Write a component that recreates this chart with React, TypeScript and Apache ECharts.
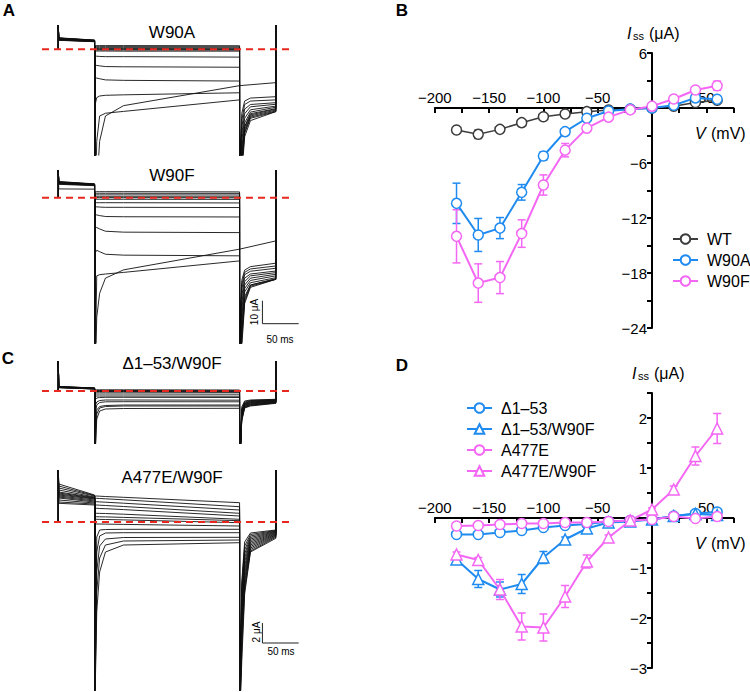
import React, { useEffect, useRef } from 'react';
import * as echarts from 'echarts';

const FONT = 'Liberation Sans, Arial, Helvetica, sans-serif';

// ---------- I–V data (panel B) ----------
const V = [-180, -160, -140, -120, -100, -80, -60, -40, -20, 0, 20, 40, 60];
const WT = [-2.4, -2.87, -2.33, -1.6, -0.95, -0.65, -0.4, -0.22, -0.15, 0, 0.2, 0.6, 0.85];
const WT_ERR = [0.2, 0.45, 0.35, 0.2, 0.15, 0.1, 0.1, 0.05, 0.05, 0.05, 0.1, 0.15, 0.15];
const W90A = [-10.4, -13.85, -13.1, -9.2, -5.24, -2.58, -1.12, -0.33, -0.12, 0, 0.3, 1.1, 0.95];
const W90A_ERR = [2.2, 1.8, 1.15, 0.85, 0.45, 0.25, 0.2, 0.1, 0.05, 0.05, 0.1, 0.35, 0.2];
const W90F = [-14.0, -19.1, -18.5, -13.7, -8.4, -4.6, -2.2, -1.0, -0.2, 0.2, 0.98, 1.96, 2.43];
const W90F_ERR = [2.9, 2.1, 1.75, 1.5, 1.1, 0.73, 0.3, 0.15, 0.1, 0.1, 0.15, 0.2, 0.5];

// ---------- I–V data (panel D) ----------
const D153 = [-0.33, -0.33, -0.29, -0.25, -0.19, -0.15, -0.12, -0.07, -0.05, -0.03, 0.04, 0.09, 0.12];
const D153_ERR = [0.03, 0.03, 0.03, 0.03, 0.02, 0.02, 0.02, 0.02, 0.02, 0.02, 0.02, 0.03, 0.05];
const D153_W90F = [-0.83, -1.22, -1.43, -1.32, -0.79, -0.43, -0.21, -0.09, -0.07, -0.03, 0.04, 0.08, 0.06];
const D153_W90F_ERR = [0.05, 0.17, 0.15, 0.19, 0.12, 0.05, 0.04, 0.03, 0.02, 0.02, 0.02, 0.03, 0.05];
const A477E = [-0.16, -0.15, -0.13, -0.11, -0.11, -0.09, -0.09, -0.07, -0.05, -0.03, 0.03, -0.01, 0.03];
const A477E_ERR = [0.02, 0.02, 0.02, 0.02, 0.02, 0.02, 0.02, 0.02, 0.02, 0.02, 0.02, 0.02, 0.02];
const A477E_W90F = [-0.73, -0.84, -1.43, -2.17, -2.19, -1.57, -0.87, -0.39, -0.05, 0.17, 0.57, 1.24, 1.79];
const A477E_W90F_ERR = [0.05, 0.05, 0.2, 0.27, 0.27, 0.22, 0.13, 0.05, 0.03, 0.03, 0.07, 0.18, 0.3];

// ---------- current traces (time in ms, current in µA) ----------
const STEP_T = [50.8, 53, 57, 65, 90, 250];
const TAIL_T = [250.8, 253, 257, 265, 300];

// W90A
const A1_PRE = [[5.0, 4.0], [4.9, 3.95], [4.85, 3.9], [4.8, 3.85], [4.7, 3.8], [4.6, 3.75], [4.5, 3.7], [4.4, 3.6], [4.3, 3.5], [4.2, 3.45], [4.1, 3.4], [4.0, 3.35], [3.9, 3.3]];
const A1_STEP = [
  [1.6, 1.6, 1.6, 1.6, 1.6, 1.55],
  [1.15, 1.15, 1.15, 1.15, 1.15, 1.1],
  [0.7, 0.7, 0.7, 0.7, 0.7, 0.65],
  [0.3, 0.3, 0.3, 0.3, 0.3, 0.25],
  [0, 0, 0, 0, 0, -0.05],
  [-0.3, -0.3, -0.3, -0.3, -0.3, -0.35],
  [-0.75, -0.75, -0.75, -0.75, -0.8, -0.8],
  [-3.0, -3.0, -3.1, -3.2, -3.2, -3.4],
  [-7.0, -7.0, -7.2, -7.5, -7.6, -7.8],
  [-12.5, -12.5, -12.8, -13.3, -13.5, -13.8],
  [-24, -21, -20.3, -20, -19.8, -18.9],
  [-80, -40, -29, -27.8, -27, -22],
  [-80, -60, -40, -29, -24.5, -15.8],
];
const A1_TAIL = [
  [-45, -28, -22.5, -21.2, -20.6],
  [-50, -31, -24, -22.5, -22],
  [-55, -34, -26, -24, -23.2],
  [-60, -37, -28, -25, -23.9],
  [-65, -40, -30, -26.3, -24.7],
  [-70, -43, -32, -27.3, -25.2],
  [-75, -46, -33.5, -28, -25.8],
  [-80, -49, -35, -29, -26.4],
  [-80, -52, -36.5, -30, -27.1],
  [-80, -50, -36, -29.5, -26.8],
  [-80, -47, -34, -28.5, -26],
  [-80, -55, -38, -31, -27.1],
  null,
];
const A1_CONT = -14.5;

// W90F
const A2_PRE = [[7.0, 6.0], [6.9, 5.9], [6.8, 5.85], [6.7, 5.8], [6.6, 5.75], [6.5, 5.7], [6.4, 5.6], [6.3, 5.55], [6.2, 5.5], [6.1, 5.45], [6.0, 5.4], [5.8, 5.2], [3.8, 3.7]];
const A2_STEP = [
  [2.6, 2.6, 2.6, 2.6, 2.6, 2.5],
  [1.9, 1.9, 1.9, 1.9, 1.9, 1.85],
  [1.2, 1.2, 1.2, 1.2, 1.2, 1.15],
  [0.4, 0.4, 0.4, 0.4, 0.4, 0.35],
  [0, 0, 0, 0, 0, -0.05],
  [-0.7, -0.7, -0.7, -0.7, -0.7, -0.75],
  [-2.2, -2.2, -2.2, -2.2, -2.2, -2.3],
  [-4.0, -4.0, -4.1, -4.2, -4.2, -4.3],
  [-7.5, -7.5, -7.8, -8.2, -8.3, -8.4],
  [-13, -13, -13.6, -14.6, -15, -15.2],
  [-24, -22.9, -23.5, -24.6, -25, -25.3],
  [-90, -34, -33.5, -33.2, -32.5, -27.5],
  [-90, -52, -41.6, -35, -31.4, -22.4],
];
const A2_TAIL = [
  [-50, -36, -31.5, -30, -28.5],
  [-55, -38, -32.5, -31, -29.7],
  [-60, -40, -33.5, -32, -30.7],
  [-65, -43, -35, -33.2, -31.9],
  [-70, -46, -36.5, -34, -32.6],
  [-75, -49, -38, -35, -33.3],
  [-80, -52, -39.5, -36, -34],
  [-85, -55, -41, -37, -34.8],
  [-90, -58, -43, -38, -35.5],
  [-90, -62, -45, -38.5, -35.5],
  [-90, -60, -44, -38, -35.2],
  [-90, -65, -46, -39, -35.5],
  null,
];
const A2_CONT = -18.8;

// Δ1–53/W90F
const C1_PRE = [[0.45, 0.3], [0.44, 0.3], [0.43, 0.29], [0.42, 0.28], [0.41, 0.27], [0.4, 0.26], [0.39, 0.25], [0.38, 0.24], [0.37, 0.23], [0.36, 0.22], [0.35, 0.21], [0.34, 0.2], [0.33, 0.2]];
const C1_STEP = [
  [0.12, 0.12, 0.12, 0.12, 0.12, 0.1],
  [0.05, 0.05, 0.05, 0.05, 0.05, 0.03],
  [0, 0, 0, 0, 0, -0.02],
  [-0.05, -0.05, -0.05, -0.05, -0.05, -0.07],
  [-0.12, -0.12, -0.12, -0.12, -0.12, -0.14],
  [-0.3, -0.3, -0.3, -0.3, -0.3, -0.32],
  [-0.5, -0.5, -0.5, -0.5, -0.5, -0.52],
  [-0.9, -0.7, -0.65, -0.63, -0.63, -0.65],
  [-1.5, -1.1, -0.95, -0.9, -0.9, -0.92],
  [-2.5, -1.4, -1.15, -1.08, -1.07, -1.08],
  [-4, -1.9, -1.55, -1.45, -1.4, -1.4],
  [-6, -2.3, -1.7, -1.55, -1.5, -1.5],
  [-8, -2.8, -2.0, -1.8, -1.75, -1.73],
];
const C1_TAIL = [
  [-6, -1.6, -1.0, -0.9, -0.83],
  [-7, -1.8, -1.1, -0.95, -0.87],
  [-8, -2.0, -1.2, -1.0, -0.9],
  [-8, -2.1, -1.25, -1.05, -0.93],
  [-8, -2.2, -1.3, -1.1, -0.96],
  [-8, -2.3, -1.35, -1.15, -1.0],
  [-8, -2.4, -1.4, -1.2, -1.03],
  [-8, -2.5, -1.45, -1.25, -1.07],
  [-8, -2.6, -1.5, -1.3, -1.1],
  [-8, -2.7, -1.55, -1.35, -1.14],
  [-8, -2.8, -1.6, -1.4, -1.17],
  [-8, -2.9, -1.65, -1.45, -1.2],
  [-8, -3.0, -1.7, -1.5, -1.23],
];

// A477E/W90F
const C2_PRE = [[3.8, 2.7], [3.6, 2.65], [3.4, 2.6], [3.2, 2.5], [3.0, 2.45], [2.9, 2.4], [2.8, 2.35], [2.7, 2.3], [2.6, 2.2], [2.5, 2.1], [2.4, 2.0], [2.2, 1.9], [2.0, 1.8], [1.87, 1.7]];
const C2_STEP = [
  [2.6, 2.6, 2.58, 2.55, 2.47, 1.93],
  [2.37, 2.37, 2.35, 2.32, 2.22, 1.53],
  [2.03, 2.03, 2.01, 1.98, 1.88, 1.2],
  [1.7, 1.7, 1.68, 1.65, 1.55, 0.87],
  [1.37, 1.37, 1.35, 1.33, 1.24, 0.6],
  [0.87, 0.87, 0.86, 0.85, 0.78, 0.27],
  [0.53, 0.53, 0.52, 0.51, 0.46, 0.13],
  [0.27, 0.27, 0.26, 0.25, 0.21, -0.07],
  [-0.2, -0.2, -0.2, -0.21, -0.24, -0.4],
  [-20, -1.5, -0.8, -0.75, -0.73, -0.73],
  [-20, -3, -1.4, -1.1, -1.07, -1.07],
  [-20, -5, -2.4, -1.7, -1.55, -1.53],
  [-20, -7, -3.6, -2.3, -1.9, -1.8],
  [-20, -9, -5, -3, -2.3, -2.07],
];
const C2_TAIL = [
  [-20, -6, -2.0, -1.1, -0.8],
  [-20, -6.5, -2.4, -1.25, -0.85],
  [-20, -7, -2.8, -1.4, -0.9],
  [-20, -7.5, -3.2, -1.55, -0.95],
  [-20, -8, -3.6, -1.7, -1.0],
  [-20, -8.5, -4.0, -1.85, -1.06],
  [-20, -9, -4.4, -2.0, -1.12],
  [-20, -9.5, -4.8, -2.15, -1.18],
  [-20, -10, -5.2, -2.3, -1.24],
  [-20, -10.5, -5.6, -2.45, -1.3],
  [-20, -11, -6.0, -2.6, -1.37],
  [-20, -12, -6.4, -2.75, -1.44],
  [-20, -13, -6.8, -2.9, -1.52],
  [-20, -14, -7.2, -3.0, -1.63],
];

const BLUE = '#1f8bf0';
const MAGENTA = '#f466f4';
const GRAY = '#3c3c3c';
const RED = '#e8281e';

const minus = (v: number) => String(v).replace('-', '−');

function traceSeries(g: number, pre: number[][], step: number[][], tail: (number[] | null)[], cont: number, spike: number, clip: number) {
  return pre.map((p, i) => {
    const pts: number[][] = [[0, 0], [0, spike], [0.6, p[0]], [50, p[1]], [50, clip]];
    STEP_T.forEach((t, j) => pts.push([t, step[i][j]]));
    const tl = tail[i];
    if (tl) {
      pts.push([250, clip]);
      TAIL_T.forEach((t, j) => pts.push([t, tl[j]]));
    } else {
      pts.push([300, cont]);
    }
    pts.push([300, spike]);
    return {
      type: 'line', xAxisIndex: g, yAxisIndex: g, data: pts, symbol: 'none', silent: true, z: 2,
      lineStyle: { color: '#111', width: 0.9 },
    };
  });
}

function zeroLine(g: number) {
  return {
    type: 'line', xAxisIndex: g, yAxisIndex: g, data: [[-22.5, 0], [323.5, 0]], symbol: 'none', silent: true, z: 5,
    lineStyle: { color: RED, width: 2, type: [7, 5] },
  };
}

function scaleBar(g: number, y0: number, dy: number) {
  return {
    type: 'line', xAxisIndex: g, yAxisIndex: g, data: [[281.5, y0], [281.5, y0 - dy], [331.5, y0 - dy]], symbol: 'none', silent: true,
    lineStyle: { color: '#222', width: 1 },
  };
}

function ivLine(name: string, g: number, ys: number[], color: string, symbol: string, width: number) {
  return {
    type: 'line', name, xAxisIndex: g, yAxisIndex: g, data: V.map((v, i) => [v, ys[i]]),
    symbol, symbolSize: symbol === 'triangle' ? 11 : 10, showAllSymbol: true, z: 4,
    lineStyle: { color, width }, itemStyle: { color: '#fff', borderColor: color, borderWidth: 1.5 },
  };
}

function errBars(g: number, ys: number[], errs: number[], color: string) {
  return {
    type: 'custom', xAxisIndex: g, yAxisIndex: g, silent: true, z: 3,
    data: V.map((v, i) => [v, ys[i] - errs[i], ys[i] + errs[i]]),
    encode: { x: 0, y: [1, 2] },
    renderItem: (params: any, api: any) => {
      const lo = api.coord([api.value(0), api.value(1)]);
      const hi = api.coord([api.value(0), api.value(2)]);
      const w = 4;
      const st = { stroke: color, lineWidth: 1.5 };
      return {
        type: 'group', children: [
          { type: 'line', shape: { x1: lo[0], y1: lo[1], x2: hi[0], y2: hi[1] }, style: st },
          { type: 'line', shape: { x1: lo[0] - w, y1: lo[1], x2: lo[0] + w, y2: lo[1] }, style: st },
          { type: 'line', shape: { x1: hi[0] - w, y1: hi[1], x2: hi[0] + w, y2: hi[1] }, style: st },
        ],
      };
    },
  };
}

const AXIS_LINE = { color: '#000', width: 2 };

// visible V axis, drawn on a helper grid whose bottom edge is the I = 0 line
function ivX(g: number) {
  return {
    type: 'value', gridIndex: g, position: 'bottom', min: -200, max: 75, interval: 25,
    axisLine: { show: true, onZero: false, lineStyle: AXIS_LINE },
    axisTick: { show: true, inside: false, length: 5, lineStyle: AXIS_LINE },
    axisLabel: {
      inside: true, margin: 3, fontSize: 15, color: '#000', fontFamily: FONT,
      formatter: (v: number) => (v === 0 || v % 50 !== 0 ? '' : minus(v)),
    },
    splitLine: { show: false },
  };
}

// visible I axis, drawn on a helper grid whose left edge is the V = 0 line
function ivY(g: number, min: number, max: number, interval: number, labelEvery: number) {
  return {
    type: 'value', gridIndex: g, position: 'left', min, max, interval,
    axisLine: { show: true, onZero: false, lineStyle: AXIS_LINE },
    axisTick: { show: true, inside: false, length: 5, lineStyle: AXIS_LINE },
    axisLabel: {
      margin: 5, fontSize: 15, color: '#000', fontFamily: FONT,
      formatter: (v: number) => {
        const r = v / labelEvery;
        if (v === 0 || Math.abs(r - Math.round(r)) > 1e-6) return '';
        return minus(v);
      },
    },
    splitLine: { show: false },
  };
}

function txt(x: number, y: number, text: string, size: number, extra: any = {}, styleExtra: any = {}) {
  return {
    type: 'text', x, y, silent: true, ...extra,
    style: { text, fontSize: size, fontFamily: FONT, fill: '#000', textAlign: 'center', textVerticalAlign: 'middle', ...styleExtra },
  };
}

function axisNameI(xI: number, y: number) {
  return [
    txt(xI, y, 'I', 16, {}, { fontStyle: 'italic', textAlign: 'left' }),
    txt(xI + 6, y + 3, 'ss', 11, {}, { textAlign: 'left' }),
    txt(xI + 22, y, '(μA)', 16, {}, { textAlign: 'left' }),
  ];
}

function axisNameV(x: number, y: number) {
  return [
    txt(x, y, 'V', 16, {}, { fontStyle: 'italic', textAlign: 'left' }),
    txt(x + 16, y, '(mV)', 16, {}, { textAlign: 'left' }),
  ];
}

export default function App() {
  const ref = useRef<HTMLDivElement>(null);
  useEffect(() => {
    if (!ref.current) return;
    const chart = echarts.init(ref.current, undefined, { renderer: 'svg' });
    const hidden = (g: number, min: number, max: number) => ({ type: 'value', gridIndex: g, min, max, show: false });

    const option: any = {
      animation: false,
      backgroundColor: '#fff',
      grid: [
        { left: 42, top: 20, width: 259.2, height: 135.1 },
        { left: 42, top: 165, width: 259.2, height: 178 },
        { left: 42, top: 358, width: 259.2, height: 85.3 },
        { left: 42, top: 466, width: 259.2, height: 224 },
        { left: 434.8, top: 53, width: 298.65, height: 275 },
        { left: 434.8, top: 393, width: 298.65, height: 275 },
        { left: 434.8, top: 53, width: 298.65, height: 55 },
        { left: 434.8, top: 393, width: 298.65, height: 125 },
        { left: 652, top: 53, width: 81.45, height: 275 },
        { left: 652, top: 393, width: 81.45, height: 275 },
      ],
      xAxis: [
        hidden(0, -22.5, 335), hidden(1, -22.5, 335), hidden(2, -22.5, 335), hidden(3, -22.5, 335),
        hidden(4, -200, 75), hidden(5, -200, 75),
        ivX(6), ivX(7),
        hidden(8, 0, 1), hidden(9, 0, 1),
      ],
      yAxis: [
        hidden(0, -46, 12.74),
        hidden(1, -63.2, 14.2),
        hidden(2, -5.23, 3.3),
        hidden(3, -16.8, 5.6),
        hidden(4, -24, 6),
        hidden(5, -3, 2.5),
        hidden(6, 0, 1),
        hidden(7, 0, 1),
        ivY(8, -24, 6, 3, 6),
        ivY(9, -3, 2.5, 0.5, 1),
      ],
      legend: [
        {
          orient: 'vertical', left: 667, top: 226, itemWidth: 25, itemHeight: 12, itemGap: 5, selectedMode: false,
          data: ['WT', 'W90A', 'W90F'],
          textStyle: { fontSize: 16, color: '#000', fontFamily: FONT, padding: [0, 0, 0, 4] },
        },
        {
          orient: 'vertical', left: 461, top: 395, itemWidth: 25, itemHeight: 12, itemGap: 5, selectedMode: false,
          data: ['Δ1–53', 'Δ1–53/W90F', 'A477E', 'A477E/W90F'],
          textStyle: { fontSize: 16, color: '#000', fontFamily: FONT, padding: [0, 0, 0, 4] },
        },
      ],
      series: [
        ...traceSeries(0, A1_PRE, A1_STEP, A1_TAIL, A1_CONT, 10.5, -80),
        ...traceSeries(1, A2_PRE, A2_STEP, A2_TAIL, A2_CONT, 12, -90),
        ...traceSeries(2, C1_PRE, C1_STEP, C1_TAIL, 0, 3.0, -8),
        ...traceSeries(3, C2_PRE, C2_STEP, C2_TAIL, 0, 5.2, -20),
        zeroLine(0), zeroLine(1), zeroLine(2), zeroLine(3),
        scaleBar(1, -44.8, 10),
        scaleBar(3, -10.1, 2),
        errBars(4, WT, WT_ERR, GRAY),
        errBars(4, W90A, W90A_ERR, BLUE),
        errBars(4, W90F, W90F_ERR, MAGENTA),
        ivLine('WT', 4, WT, GRAY, 'circle', 1.5),
        ivLine('W90A', 4, W90A, BLUE, 'circle', 2),
        ivLine('W90F', 4, W90F, MAGENTA, 'circle', 2),
        errBars(5, D153, D153_ERR, BLUE),
        errBars(5, D153_W90F, D153_W90F_ERR, BLUE),
        errBars(5, A477E, A477E_ERR, MAGENTA),
        errBars(5, A477E_W90F, A477E_W90F_ERR, MAGENTA),
        ivLine('Δ1–53', 5, D153, BLUE, 'circle', 2),
        ivLine('Δ1–53/W90F', 5, D153_W90F, BLUE, 'triangle', 2),
        ivLine('A477E', 5, A477E, MAGENTA, 'circle', 2),
        ivLine('A477E/W90F', 5, A477E_W90F, MAGENTA, 'triangle', 2),
      ],
      graphic: [
        txt(9, 10, 'A', 17, {}, { fontWeight: 'bold' }),
        txt(402, 10, 'B', 17, {}, { fontWeight: 'bold' }),
        txt(8, 358, 'C', 17, {}, { fontWeight: 'bold' }),
        txt(402, 365, 'D', 17, {}, { fontWeight: 'bold' }),
        txt(172, 32, 'W90A', 17),
        txt(172, 175, 'W90F', 17),
        txt(172, 363, 'Δ1–53/W90F', 17),
        txt(172, 477, 'A477E/W90F', 17),
        txt(254, 312, '10 μA', 10, { rotation: Math.PI / 2 }),
        txt(280, 339, '50 ms', 10),
        txt(256, 632, '2 μA', 10, { rotation: Math.PI / 2 }),
        txt(281, 651, '50 ms', 10),
        ...axisNameI(627, 33),
        ...axisNameV(695, 133),
        ...axisNameI(632, 373),
        ...axisNameV(695, 543),
      ],
    };
    chart.setOption(option);
    return () => chart.dispose();
  }, []);
  return <div ref={ref} style={{ position: 'fixed', left: 0, top: 0, width: 750, height: 692, background: '#fff' }} />;
}
